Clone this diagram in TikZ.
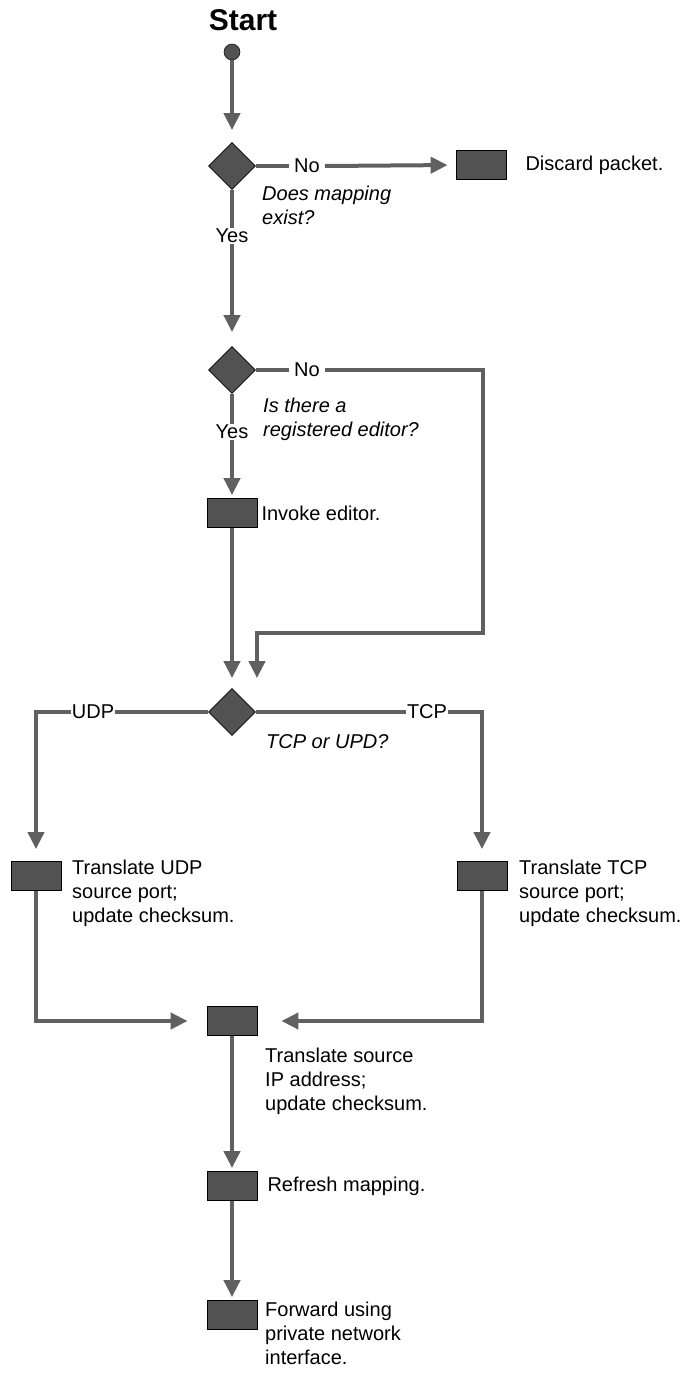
\documentclass[tikz,border=0pt]{standalone}
\usepackage{fontspec}
\setmainfont{Liberation Sans}
\usetikzlibrary{shapes.geometric,arrows.meta,calc}
\definecolor{linegray}{HTML}{606060}
\definecolor{boxgray}{HTML}{525252}
\begin{document}
\begin{tikzpicture}[x=1pt,y=-1pt,
  font=\fontsize{20}{24}\selectfont,
  flow/.style={draw=linegray, line width=4pt},
  arr/.style={flow, -{Triangle[width=16pt,length=17pt]}},
  dec/.style={diamond, draw=black, fill=boxgray, minimum width=47pt, minimum height=47pt, inner sep=0pt, line width=0.8pt},
  act/.style={rectangle, draw=black, fill=boxgray, minimum width=50pt, minimum height=29pt, inner sep=0pt, line width=0.8pt},
  lbl/.style={inner sep=1pt},
  nolbl/.style={inner sep=5pt},
  desc/.style={anchor=north west, align=left, inner sep=0pt},
  qdesc/.style={desc, font=\itshape\fontsize{20}{24}\selectfont}]
\useasboundingbox (0,0) rectangle (688,1376);

% start
\node[font=\bfseries\fontsize{30}{36}\selectfont] (start) at (243,20) {Start};
\node[circle, fill=boxgray, draw=black, line width=0.5pt, minimum size=16pt, inner sep=0pt] (dot) at (232,52) {};

% decision 1
\node[dec] (d1) at (232,166) {};
\draw[arr, shorten >=12pt] (dot) -- (d1.north);
\node[nolbl] (no1) at (307,166) {No};
\draw[flow] (d1.east) -- (no1.west);
\node[act] (discard) at (481,165) {};
\draw[arr, shorten >=8pt] (no1.east) -- (discard.west);
\node[anchor=west] (disct) at (522,165) {Discard packet.};
\node[qdesc] (q1) at (262,186) {Does mapping\\exist?};
\node[lbl] (yes1) at (232,236) {Yes};
\draw[flow] (d1.south) -- (yes1.north);

% decision 2
\node[dec] (d2) at (232,370) {};
\draw[arr, shorten >=14pt] (yes1.south) -- (d2.north);
\node[nolbl] (no2) at (307,370) {No};
\draw[flow] (d2.east) -- (no2.west);
\node[qdesc] (q2) at (263,398) {Is there a\\registered editor?};
\node[lbl] (yes2) at (232,432) {Yes};
\draw[flow] (d2.south) -- (yes2.north);

% invoke editor
\node[act] (invoke) at (232,513) {};
\node[anchor=west] (invt) at (258,513) {Invoke editor.};
\draw[arr, shorten >=3pt] (yes2.south) -- (invoke.north);

% decision 3
\node[dec] (d3) at (232,712) {};
\draw[arr, shorten >=10pt] (invoke.south) -- (d3.north);
\coordinate (c2a) at (483,370);
\coordinate (c2b) at (483,633);
\coordinate (c2c) at (257,633);
\draw[arr, shorten >=10pt] (no2.east) -- (c2a) -- (c2b) -- (c2c) -- (c2c |- d3.north);
\node[qdesc] (q3) at (266,734) {TCP or UPD?};

% UDP branch
\node[lbl] (udp) at (93,712) {UDP};
\draw[flow] (d3.west) -- (udp.east);
\node[act] (udpbox) at (36,876) {};
\coordinate (cu) at (36,712);
\draw[arr, shorten >=12pt] (udp.west) -- (cu) -- (udpbox.north);
\node[desc] (udpt) at (72,860) {Translate UDP\\source port;\\update checksum.};

% TCP branch
\node[lbl] (tcp) at (427,712) {TCP};
\draw[flow] (d3.east) -- (tcp.west);
\node[act] (tcpbox) at (482,876) {};
\coordinate (ct) at (482,712);
\draw[arr, shorten >=12pt] (tcp.east) -- (ct) -- (tcpbox.north);
\node[desc] (tcpt) at (519,860) {Translate TCP\\source port;\\update checksum.};

% merge
\node[act] (merge) at (232,1021) {};
\draw[arr, shorten >=19pt] (udpbox.south) -- (udpbox.south |- merge.west) -- (merge.west);
\draw[arr, shorten >=24pt] (tcpbox.south) -- (tcpbox.south |- merge.east) -- (merge.east);
\node[desc] (merget) at (265,1048) {Translate source\\IP address;\\update checksum.};

% refresh
\node[act] (refresh) at (232,1186) {};
\draw[arr, shorten >=3pt] (merge.south) -- (refresh.north);
\node[anchor=west] (reft) at (264,1186) {Refresh mapping.};

% forward
\node[act] (forward) at (232,1315) {};
\draw[arr, shorten >=3pt] (refresh.south) -- (forward.north);
\node[desc] (fwdt) at (265,1302) {Forward using\\private network\\interface.};
\end{tikzpicture}
\end{document}
